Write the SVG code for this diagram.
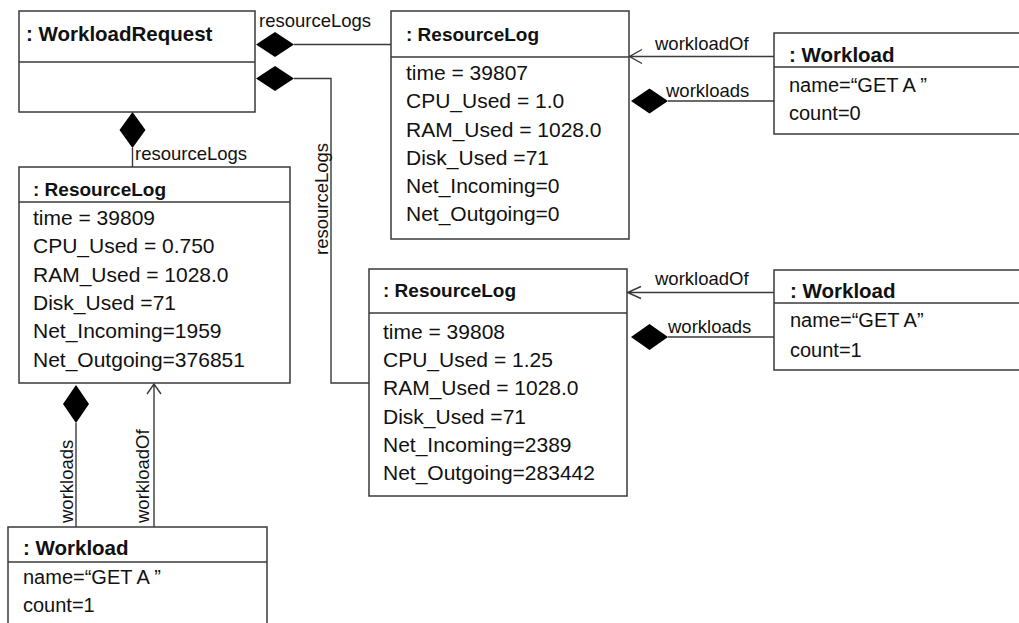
<svg xmlns="http://www.w3.org/2000/svg" width="1019" height="623" viewBox="0 0 1019 623">
<style>
.box{fill:#fff;stroke:#3a3a3a;stroke-width:1.5}
.div{stroke:#3a3a3a;stroke-width:1.5}
.ln{fill:none;stroke:#3a3a3a;stroke-width:1.4}
.dia{fill:#000;stroke:none}
.t{font-family:"Liberation Sans",Arial,sans-serif;fill:#111}
.ttl{font-size:19px;font-weight:bold}
.big{font-size:20.5px;font-weight:bold}
.row{font-size:21px}
.wrow{font-size:20px}
.lbl{font-size:18.5px}
</style>
<rect width="1019" height="623" fill="#fff"/>
<g id="connectors">
  <path class="ln" d="M294,44.5 H391"/>
  <polygon class="dia" points="256,44.5 275,32 294,44.5 275,57"/>
  <path class="ln" d="M294,78.5 H331 V383 H369"/>
  <polygon class="dia" points="256,78.5 275,66 294,78.5 275,91"/>
  <path class="ln" d="M132.5,148 V167"/>
  <polygon class="dia" points="132.5,112 145.5,130 132.5,148 119.5,130"/>
  <path class="ln" d="M76,423 V527"/>
  <polygon class="dia" points="76,385 89,404 76,423 63,404"/>
  <path class="ln" d="M154,527 V384 M147,394 L154,384 L161,394"/>
  <path class="ln" d="M774,56.5 H629.5 M642,49.5 L629.5,56.5 L642,63.5"/>
  <path class="ln" d="M668,101 H774"/>
  <polygon class="dia" points="631,101 649.5,88.5 668,101 649.5,113.5"/>
  <path class="ln" d="M774,292.5 H627.5 M641,286.5 L627.5,292.5 L641,298.5"/>
  <path class="ln" d="M668,337 H774"/>
  <polygon class="dia" points="631,337 649.5,324 668,337 649.5,350"/>
  <text class="t lbl" x="259" y="27">resourceLogs</text>
  <text class="t lbl" x="135" y="160">resourceLogs</text>
  <text class="t lbl" transform="translate(328,255) rotate(-90)">resourceLogs</text>
  <text class="t lbl" transform="translate(73,523) rotate(-90)">workloads</text>
  <text class="t lbl" transform="translate(149,523) rotate(-90)">workloadOf</text>
  <text class="t lbl" x="655" y="50">workloadOf</text>
  <text class="t lbl" x="666" y="97">workloads</text>
  <text class="t lbl" x="655" y="285">workloadOf</text>
  <text class="t lbl" x="668" y="333">workloads</text>
</g>
<g id="workloadRequest">
  <rect class="box" x="19" y="11" width="236" height="101"/>
  <line class="div" x1="19" y1="62" x2="255" y2="62"/>
  <text class="t big" x="26" y="41">: WorkloadRequest</text>
</g>
<g id="resourceLog1">
  <rect class="box" x="391" y="11" width="238" height="228"/>
  <line class="div" x1="391" y1="57" x2="629" y2="57"/>
  <text class="t ttl" x="406" y="41">: ResourceLog</text>
  <text class="t row" x="406" y="80">time = 39807</text>
  <text class="t row" x="406" y="108">CPU_Used = 1.0</text>
  <text class="t row" x="406" y="137">RAM_Used = 1028.0</text>
  <text class="t row" x="406" y="165">Disk_Used =71</text>
  <text class="t row" x="406" y="193">Net_Incoming=0</text>
  <text class="t row" x="406" y="221">Net_Outgoing=0</text>
</g>
<g id="workload1">
  <rect class="box" x="774" y="33" width="260" height="101"/>
  <line class="div" x1="774" y1="67" x2="1034" y2="67"/>
  <text class="t big" x="789" y="62">: Workload</text>
  <text class="t wrow" x="789" y="92">name=“GET A ”</text>
  <text class="t wrow" x="789" y="120">count=0</text>
</g>
<g id="resourceLog3">
  <rect class="box" x="19" y="167" width="271" height="216"/>
  <line class="div" x1="19" y1="202" x2="290" y2="202"/>
  <text class="t ttl" x="33" y="196">: ResourceLog</text>
  <text class="t row" x="33" y="225">time = 39809</text>
  <text class="t row" x="33" y="253">CPU_Used = 0.750</text>
  <text class="t row" x="33" y="282">RAM_Used = 1028.0</text>
  <text class="t row" x="33" y="310">Disk_Used =71</text>
  <text class="t row" x="33" y="338">Net_Incoming=1959</text>
  <text class="t row" x="33" y="367">Net_Outgoing=376851</text>
</g>
<g id="resourceLog2">
  <rect class="box" x="369" y="269" width="258" height="227"/>
  <line class="div" x1="369" y1="313" x2="627" y2="313"/>
  <text class="t ttl" x="383" y="297">: ResourceLog</text>
  <text class="t row" x="383" y="339">time = 39808</text>
  <text class="t row" x="383" y="367">CPU_Used = 1.25</text>
  <text class="t row" x="383" y="395">RAM_Used = 1028.0</text>
  <text class="t row" x="383" y="424">Disk_Used =71</text>
  <text class="t row" x="383" y="452">Net_Incoming=2389</text>
  <text class="t row" x="383" y="480">Net_Outgoing=283442</text>
</g>
<g id="workload2">
  <rect class="box" x="774" y="270" width="260" height="100"/>
  <line class="div" x1="774" y1="303" x2="1034" y2="303"/>
  <text class="t big" x="790" y="298">: Workload</text>
  <text class="t wrow" x="790" y="327">name=“GET A”</text>
  <text class="t wrow" x="790" y="357">count=1</text>
</g>
<g id="workload3">
  <rect class="box" x="8" y="527" width="259" height="110"/>
  <line class="div" x1="8" y1="562" x2="267" y2="562"/>
  <text class="t big" x="23" y="555">: Workload</text>
  <text class="t wrow" x="23" y="584">name=“GET A ”</text>
  <text class="t wrow" x="23" y="612">count=1</text>
</g>
</svg>
